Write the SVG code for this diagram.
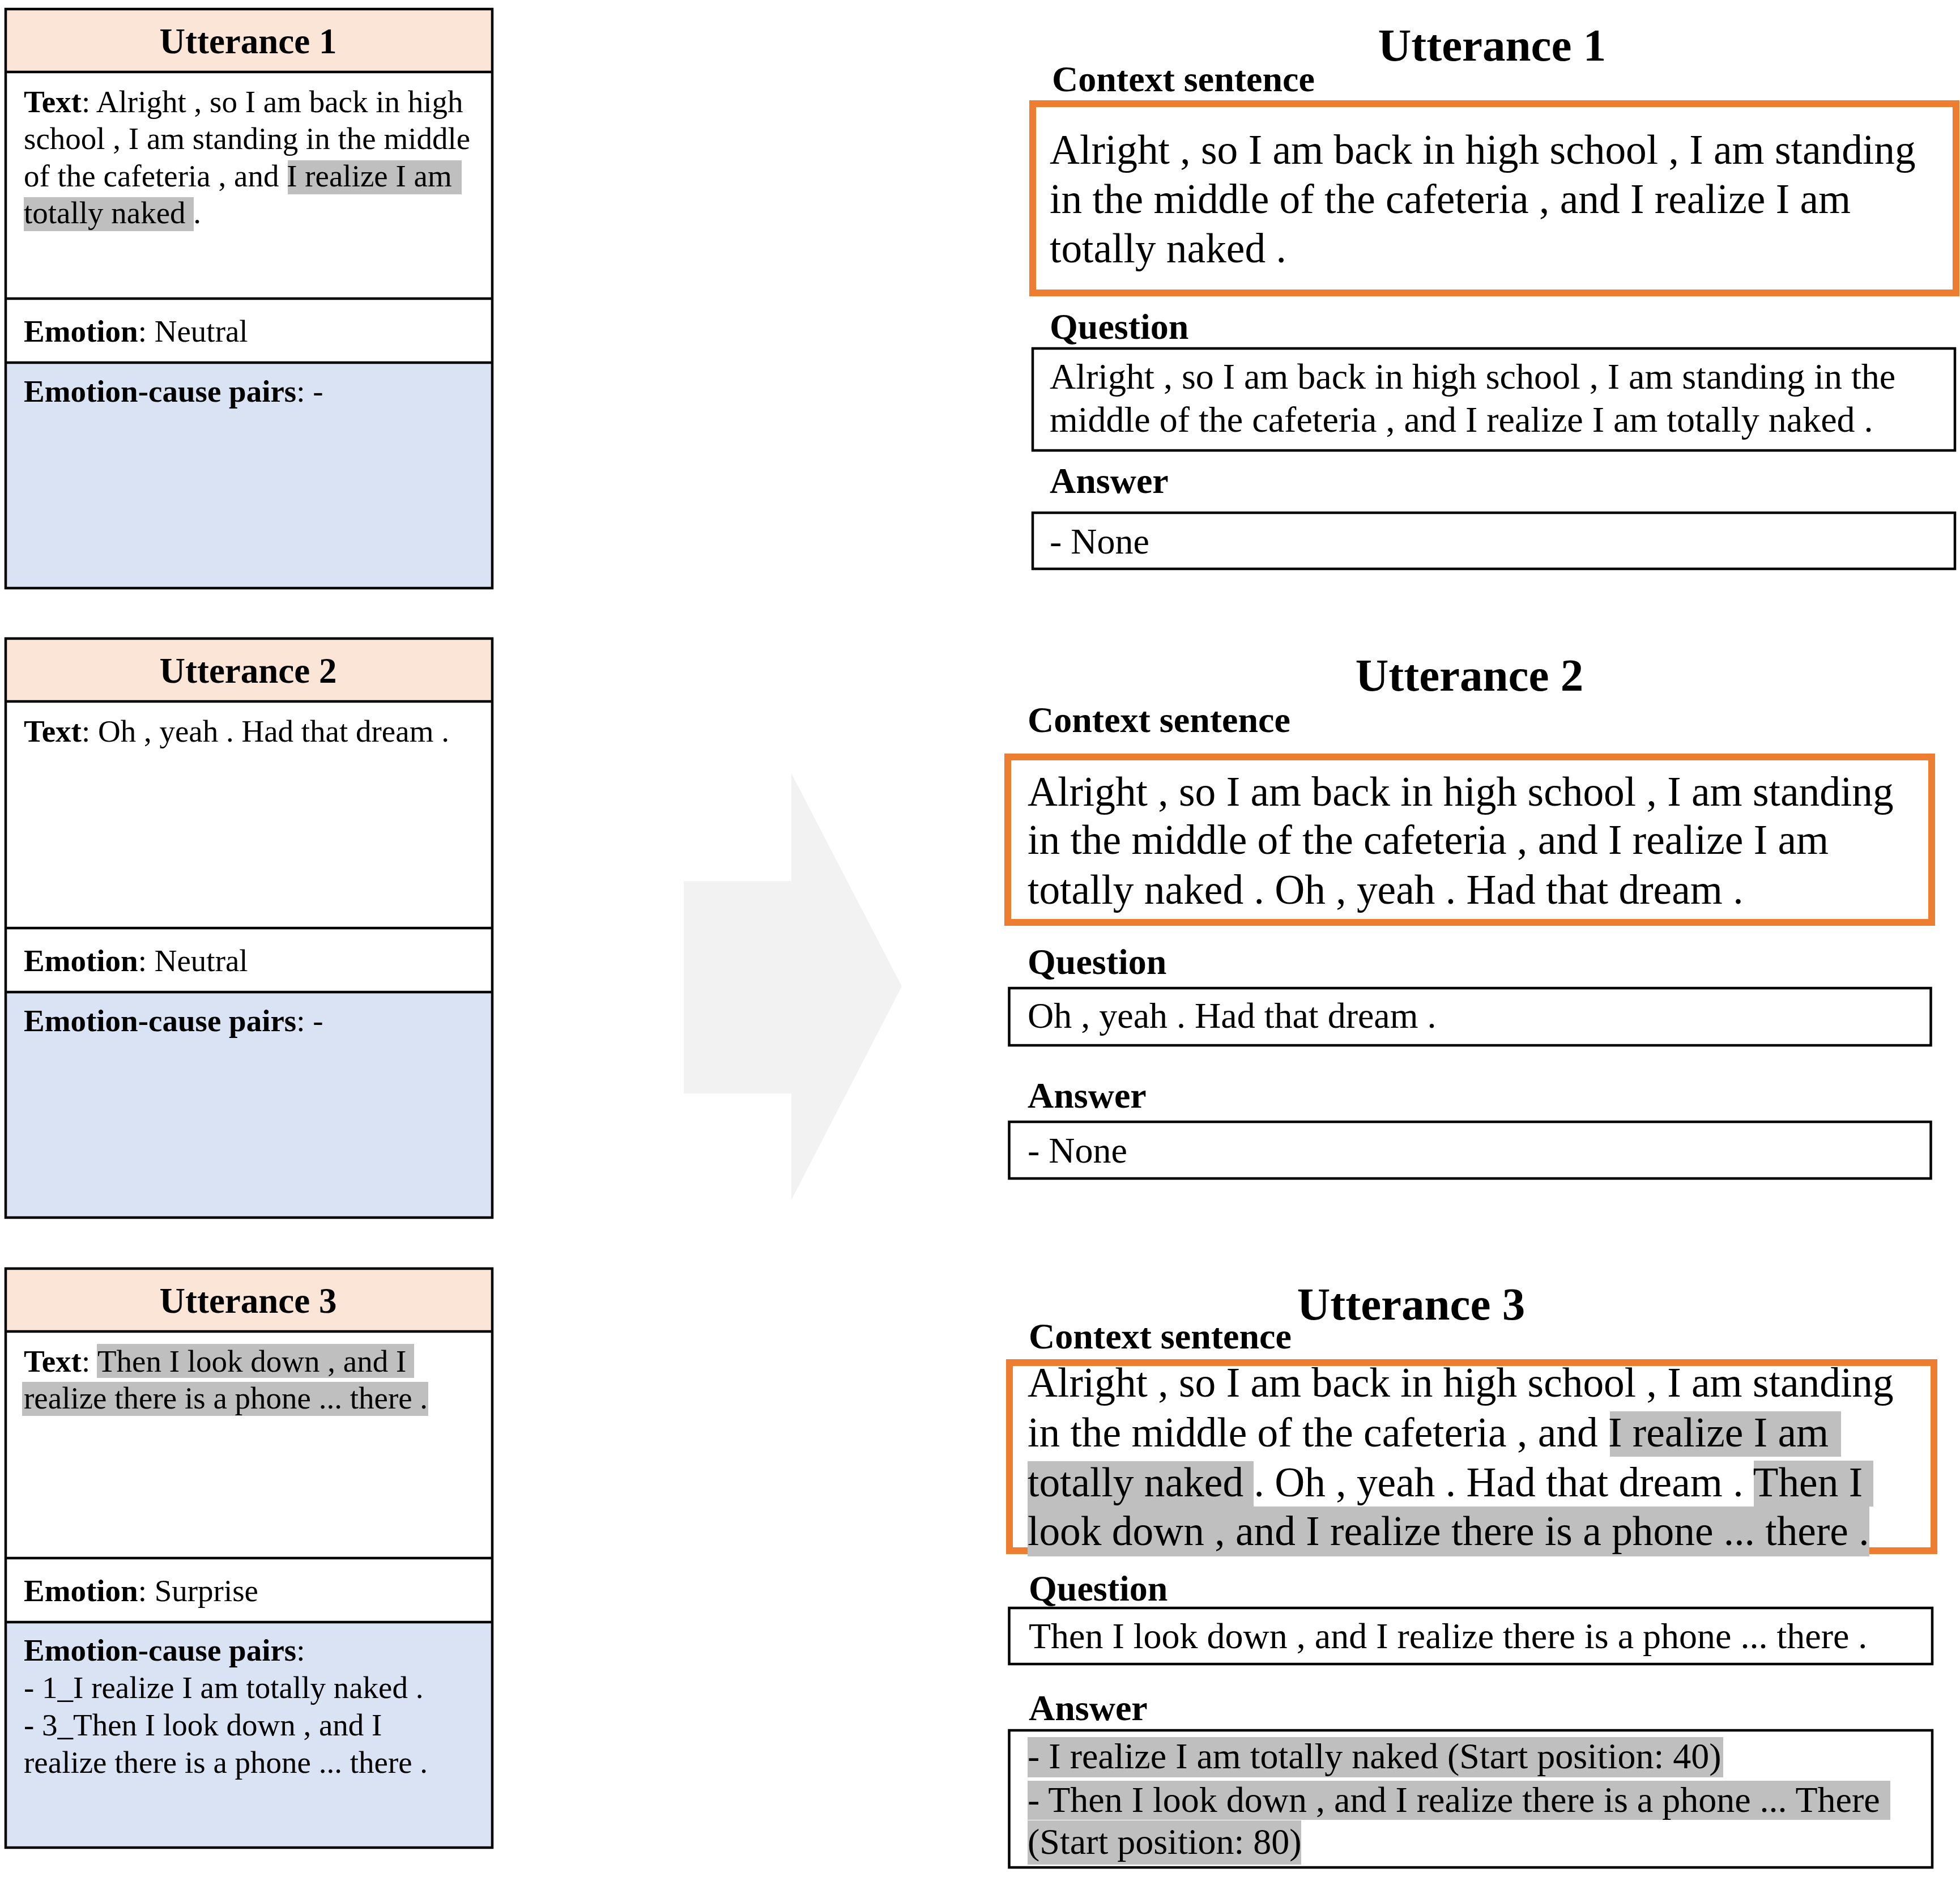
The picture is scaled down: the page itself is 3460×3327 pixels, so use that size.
<svg xmlns="http://www.w3.org/2000/svg" width="3460" height="3327" viewBox="0 0 3460 3327">
<style>
text{font-family:"Liberation Serif","Times New Roman",serif;fill:#000}
.s{font-size:55px}
.ttl{font-size:63px;font-weight:bold}
.b{font-weight:bold}
.box{fill:none;stroke:#000;stroke-width:4.5}
.ln{stroke:#000;stroke-width:4.5}
.or{fill:none;stroke:#ED7D31;stroke-width:12}
.hl{fill:#BFBFBF}
.hd{fill:#FBE5D6}
.bl{fill:#DAE3F3}
.rt{font-size:81px;font-weight:bold}
.lab{font-size:64px;font-weight:bold}
.ctx{font-size:73.4px}
.q{font-size:64px}
</style>
<rect width="3460" height="3327" fill="#fff"/>

<g id="connectors">
<polygon points="1207,1555 1397,1555 1397,1365 1592,1741 1397,2118 1397,1930 1207,1930" fill="#F2F2F2"/>
</g>

<g id="left-utterance-1">
<rect class="hd" x="10" y="16" width="859" height="111"/>
<rect class="bl" x="10" y="640" width="859" height="398"/>
<rect class="hl" x="508" y="283" width="307" height="60"/>
<rect class="hl" x="42" y="348" width="300" height="60"/>
<line class="ln" x1="10" y1="127" x2="869" y2="127"/>
<line class="ln" x1="10" y1="527" x2="869" y2="527"/>
<line class="ln" x1="10" y1="640" x2="869" y2="640"/>
<rect class="box" x="10" y="16" width="859" height="1022"/>
<text class="ttl" x="438" y="94" text-anchor="middle">Utterance 1</text>
<text class="s" x="42" y="198"><tspan class="b">Text</tspan>: Alright , so I am back in high</text>
<text class="s" x="42" y="263">school , I am standing in the middle</text>
<text class="s" x="42" y="328.5">of the cafeteria , and I realize I am</text>
<text class="s" x="42" y="394">totally naked .</text>
<text class="s" x="42" y="603"><tspan class="b">Emotion</tspan>: Neutral</text>
<text class="s" x="42" y="709"><tspan class="b">Emotion-cause pairs</tspan>: -</text>
</g>

<g id="left-utterance-2" transform="translate(0,1111)">
<rect class="hd" x="10" y="16" width="859" height="111"/>
<rect class="bl" x="10" y="640" width="859" height="398"/>
<line class="ln" x1="10" y1="127" x2="869" y2="127"/>
<line class="ln" x1="10" y1="527" x2="869" y2="527"/>
<line class="ln" x1="10" y1="640" x2="869" y2="640"/>
<rect class="box" x="10" y="16" width="859" height="1022"/>
<text class="ttl" x="438" y="94" text-anchor="middle">Utterance 2</text>
<text class="s" x="42" y="198"><tspan class="b">Text</tspan>: Oh , yeah . Had that dream .</text>
<text class="s" x="42" y="603"><tspan class="b">Emotion</tspan>: Neutral</text>
<text class="s" x="42" y="709"><tspan class="b">Emotion-cause pairs</tspan>: -</text>
</g>

<g id="left-utterance-3" transform="translate(0,2223)">
<rect class="hd" x="10" y="16" width="859" height="111"/>
<rect class="bl" x="10" y="640" width="859" height="398"/>
<rect class="hl" x="171" y="149" width="560" height="60"/>
<rect class="hl" x="39" y="216" width="717" height="60"/>
<line class="ln" x1="10" y1="127" x2="869" y2="127"/>
<line class="ln" x1="10" y1="527" x2="869" y2="527"/>
<line class="ln" x1="10" y1="640" x2="869" y2="640"/>
<rect class="box" x="10" y="16" width="859" height="1022"/>
<text class="ttl" x="438" y="94" text-anchor="middle">Utterance 3</text>
<text class="s" x="42" y="198"><tspan class="b">Text</tspan>: Then I look down , and I</text>
<text class="s" x="42" y="263">realize there is a phone ... there .</text>
<text class="s" x="42" y="603"><tspan class="b">Emotion</tspan>: Surprise</text>
<text class="s" x="42" y="708"><tspan class="b">Emotion-cause pairs</tspan>:</text>
<text class="s" x="42" y="774">- 1_I realize I am totally naked .</text>
<text class="s" x="42" y="840">- 3_Then I look down , and I</text>
<text class="s" x="42" y="906">realize there is a phone ... there .</text>
</g>

<g id="right-utterance-1">
<text class="rt" x="2634" y="107" text-anchor="middle">Utterance 1</text>
<text class="lab" x="1857" y="161">Context sentence</text>
<rect class="or" x="1823" y="183" width="1630" height="334"/>
<text class="ctx" x="1853" y="289">Alright , so I am back in high school , I am standing</text>
<text class="ctx" x="1853" y="376">in the middle of the cafeteria , and I realize I am</text>
<text class="ctx" x="1853" y="463">totally naked .</text>
<text class="lab" x="1853" y="598">Question</text>
<rect class="box" x="1823" y="615" width="1628" height="180"/>
<text class="q" x="1853" y="686">Alright , so I am back in high school , I am standing in the</text>
<text class="q" x="1853" y="762">middle of the cafeteria , and I realize I am totally naked .</text>
<text class="lab" x="1853" y="870">Answer</text>
<rect class="box" x="1823" y="905" width="1628" height="99"/>
<text class="q" x="1853" y="977">- None</text>
</g>

<g id="right-utterance-2">
<text class="rt" x="2594" y="1219" text-anchor="middle">Utterance 2</text>
<text class="lab" x="1814" y="1292">Context sentence</text>
<rect class="or" x="1779" y="1336" width="1631" height="292"/>
<text class="ctx" x="1814" y="1422">Alright , so I am back in high school , I am standing</text>
<text class="ctx" x="1814" y="1507">in the middle of the cafeteria , and I realize I am</text>
<text class="ctx" x="1814" y="1595">totally naked . Oh , yeah . Had that dream .</text>
<text class="lab" x="1814" y="1719">Question</text>
<rect class="box" x="1781.5" y="1744" width="1627" height="101"/>
<text class="q" x="1814" y="1814">Oh , yeah . Had that dream .</text>
<text class="lab" x="1814" y="1955">Answer</text>
<rect class="box" x="1781.5" y="1980" width="1627" height="100"/>
<text class="q" x="1814" y="2052">- None</text>
</g>

<g id="right-utterance-3">
<text class="rt" x="2491" y="2329" text-anchor="middle">Utterance 3</text>
<text class="lab" x="1816" y="2380">Context sentence</text>
<rect class="or" x="1782" y="2405" width="1632" height="332"/>
<rect class="hl" x="2842" y="2491" width="408" height="80"/>
<rect class="hl" x="1814" y="2579" width="399" height="80"/>
<rect class="hl" x="3096" y="2578" width="211" height="81"/>
<rect class="hl" x="1814" y="2659" width="1486" height="88"/>
<text class="ctx" x="1814" y="2465">Alright , so I am back in high school , I am standing</text>
<text class="ctx" x="1814" y="2553">in the middle of the cafeteria , and I realize I am</text>
<text class="ctx" x="1814" y="2641">totally naked . Oh , yeah . Had that dream . Then I</text>
<text class="ctx" x="1814" y="2727">look down , and I realize there is a phone ... there .</text>
<text class="lab" x="1816" y="2825">Question</text>
<rect class="box" x="1781.5" y="2838" width="1629.5" height="99"/>
<text class="q" x="1816" y="2909">Then I look down , and I realize there is a phone ... there .</text>
<text class="lab" x="1816" y="3036">Answer</text>
<rect class="box" x="1781.5" y="3054" width="1629.5" height="242"/>
<rect class="hl" x="1814" y="3066" width="1228" height="71"/>
<rect class="hl" x="1814" y="3143" width="1523" height="69"/>
<rect class="hl" x="1814" y="3213" width="483" height="78"/>
<text class="q" x="1814" y="3121">- I realize I am totally naked (Start position: 40)</text>
<text class="q" x="1814" y="3198">- Then I look down , and I realize there is a phone ... There</text>
<text class="q" x="1814" y="3272">(Start position: 80)</text>
</g>
</svg>
